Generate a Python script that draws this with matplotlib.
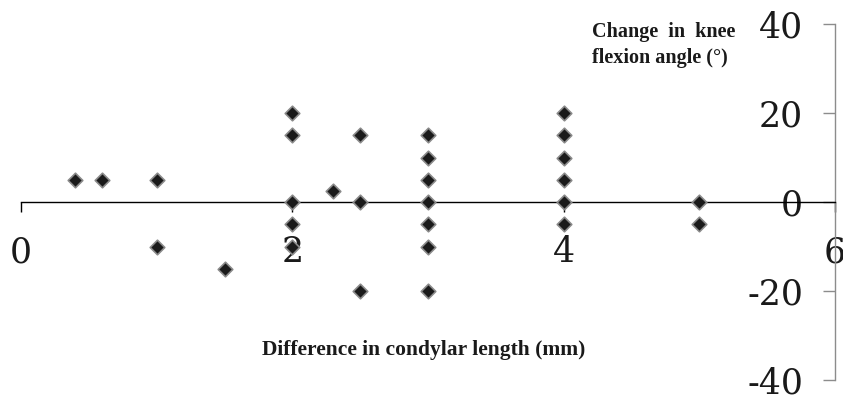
import matplotlib
matplotlib.use("Agg")
import matplotlib.pyplot as plt

x_vals = [0.4, 0.6, 1.0, 1.0, 1.5,
          2.0, 2.0, 2.0, 2.0, 2.0,
          2.3, 2.5, 2.5, 2.5,
          3.0, 3.0, 3.0, 3.0, 3.0, 3.0, 3.0,
          4.0, 4.0, 4.0, 4.0, 4.0, 4.0,
          5.0, 5.0]
y_vals = [5, 5, 5, -10, -15,
          20, 15, 0, -5, -10,
          2.5, 15, 0, -20,
          15, 10, 5, 0, -5, -10, -20,
          20, 15, 10, 5, 0, -5,
          0, -5]
x_ticks = [0, 2, 4, 6]
y_ticks = [-40, -20, 0, 20, 40]
x_title = "Difference in condylar length (mm)"
y_title_1 = "Change  in  knee"
y_title_2 = "flexion angle (°)"

W, H = 843, 397
fig = plt.figure(figsize=(W / 100, H / 100), dpi=100)
ax = fig.add_axes([21 / W, 17 / H, (835 - 21) / W, (380 - 24) / H])
ax.set_xlim(0, 6)
ax.set_ylim(-40, 40)

ax.scatter(x_vals, y_vals, marker="D", s=55, facecolor="#1a1a1a",
           edgecolor="#8a8a8a", linewidth=1.2, zorder=3, clip_on=False)

for s in ["top", "right"]:
    ax.spines[s].set_visible(False)
ax.spines["bottom"].set_position(("data", 0))
ax.spines["bottom"].set_color("black")
ax.spines["bottom"].set_linewidth(1.0)
ax.spines["left"].set_position(("data", 6))
ax.spines["left"].set_color("#8c8c8c")
ax.spines["left"].set_linewidth(1.0)

serif = ["DejaVu Serif"]
ax.set_xticks(x_ticks)
ax.set_xticklabels([str(v) for v in x_ticks], family=serif, fontsize=25)
ax.set_yticks(y_ticks)
ax.set_yticklabels([str(v) for v in y_ticks], family=serif, fontsize=25)
ax.tick_params(axis="x", direction="out", length=7, width=1.0, color="black",
               pad=17, labelcolor="#1a1a1a")
ax.tick_params(axis="y", direction="out", length=9, width=1.0, color="#8c8c8c",
               pad=14, labelcolor="#1a1a1a")

tfont = dict(family=["Liberation Serif"], fontweight="bold", fontsize=14.5,
             color="#1a1a1a")
fig.text(592 / W, 1 - 37 / H, y_title_1, ha="left", va="baseline", **tfont)
fig.text(592 / W, 1 - 63 / H, y_title_2, ha="left", va="baseline", **tfont)
fig.text(424 / W, 1 - 350 / H, x_title, ha="center", va="center",
         family=["Liberation Serif"], fontweight="bold", fontsize=15.5,
         color="#1a1a1a")

fig.savefig("out.png", dpi=100)
